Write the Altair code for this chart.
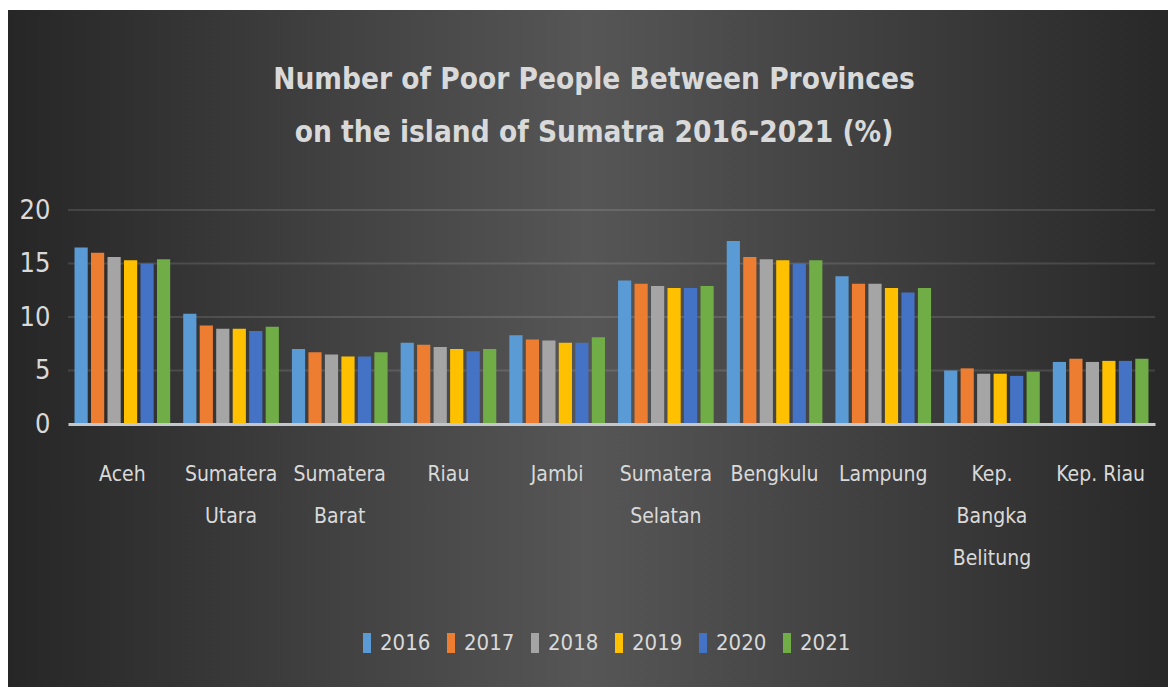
import altair as alt
import pandas as pd

provinces = ["Aceh", "Sumatera Utara", "Sumatera Barat", "Riau", "Jambi",
             "Sumatera Selatan", "Bengkulu", "Lampung", "Kep. Bangka Belitung", "Kep. Riau"]
years = ["2016", "2017", "2018", "2019", "2020", "2021"]

v2016 = [16.5, 10.3, 7.0, 7.6, 8.3, 13.4, 17.1, 13.8, 5.0, 5.8]
v2017 = [16.0, 9.2, 6.7, 7.4, 7.9, 13.1, 15.6, 13.1, 5.2, 6.1]
v2018 = [15.6, 8.9, 6.5, 7.2, 7.8, 12.9, 15.4, 13.1, 4.7, 5.8]
v2019 = [15.3, 8.9, 6.3, 7.0, 7.6, 12.7, 15.3, 12.7, 4.7, 5.9]
v2020 = [15.0, 8.7, 6.3, 6.8, 7.6, 12.7, 15.0, 12.3, 4.5, 5.9]
v2021 = [15.4, 9.1, 6.7, 7.0, 8.1, 12.9, 15.3, 12.7, 4.9, 6.1]

colors = ["#5B9BD5", "#ED7D31", "#A5A5A5", "#FFC000", "#4472C4", "#70AD47"]
y_ticks = [0, 5, 10, 15, 20]
grid_values = [5, 10, 15, 20]
title_lines = ["Number of Poor People Between Provinces",
               "on the island of Sumatra 2016-2021 (%)"]

series = dict(zip(years, [v2016, v2017, v2018, v2019, v2020, v2021]))
rows = []
for yr in years:
    for p, v in zip(provinces, series[yr]):
        rows.append({"province": p, "year": yr, "value": v})
df = pd.DataFrame(rows)

F = "DejaVu Sans Condensed, Liberation Sans Narrow, sans-serif"
TXT = "#d9d9d9"

W, H = 1087, 214
PL, PT, PR, PB = 60, 202, 13, 263

one = pd.DataFrame({"k": [0]})

bg = alt.Chart(one).mark_rect(
    fill=alt.Gradient(
        gradient="linear",
        stops=[
            alt.GradientStop(offset=0, color="#262626"),
            alt.GradientStop(offset=0.5, color="#565656"),
            alt.GradientStop(offset=1, color="#282828"),
        ],
        x1=0, x2=1, y1=0, y2=0,
    ),
    strokeWidth=0,
).encode(
    x=alt.value(-PL), x2=alt.value(W + PR),
    y=alt.value(-PT + 2), y2=alt.value(H + PB),
)

grid = alt.Chart(pd.DataFrame({"value": grid_values})).mark_rule(
    color="white", opacity=0.12, strokeWidth=2
).encode(y=alt.Y("value:Q"))

bars = alt.Chart(df).mark_bar().encode(
    x=alt.X(
        "province:N", sort=provinces,
        scale=alt.Scale(paddingInner=0.12, paddingOuter=0.06),
        axis=alt.Axis(
            title=None, labelAngle=0,
            labelExpr="datum.label == 'Kep. Riau' ? datum.label : split(datum.label, ' ')",
            labelFont=F, labelFontSize=21, labelColor=TXT,
            labelLineHeight=42, labelBaseline="top", labelPadding=39,
            ticks=False, domainColor="#c3c7cb", domainWidth=3, grid=False,
            zindex=1,
        ),
    ),
    xOffset=alt.XOffset("year:N", sort=years,
                        scale=alt.Scale(paddingInner=0.2, paddingOuter=0)),
    y=alt.Y(
        "value:Q", scale=alt.Scale(domain=[0, 20]),
        axis=alt.Axis(
            title=None, values=y_ticks, grid=False, domain=False, ticks=False,
            labelFont=F, labelFontSize=27, labelColor=TXT, labelPadding=18,
            zindex=1,
        ),
    ),
    color=alt.Color(
        "year:N", sort=years,
        scale=alt.Scale(domain=years, range=colors),
        legend=alt.Legend(
            orient="none", legendX=288, legendY=422, direction="horizontal",
            title=None, symbolType="M-0.4,-1H0.4V1H-0.4Z", symbolSize=400,
            symbolStrokeWidth=0, symbolOpacity=1,
            labelFont=F, labelFontSize=22, labelColor=TXT, labelOffset=2,
            columnPadding=9, padding=0, zindex=1,
        ),
    ),
)

title = alt.Chart(one).mark_text(
    text=title_lines, font=F, fontSize=29.5, fontWeight="bold", color=TXT,
    lineHeight=53, baseline="middle", align="center",
).encode(x=alt.value(526), y=alt.value(-130))

chart = alt.layer(bg, grid, bars, title).properties(
    width=W, height=H,
    autosize=alt.AutoSizeParams(type="none"),
    padding={"left": PL, "top": PT, "right": PR, "bottom": PB},
    background="white",
).configure_view(stroke=None)

chart.save("out.html", embed_options={"renderer": "svg", "actions": False})
